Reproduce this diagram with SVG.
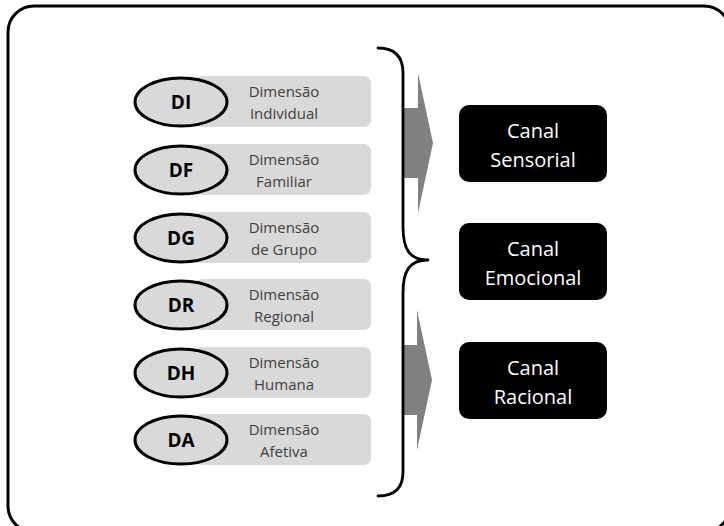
<svg xmlns="http://www.w3.org/2000/svg" width="724" height="526" viewBox="0 0 724 526">
  <style>
    .frame { fill: #ffffff; stroke: #000000; stroke-width: 3; }
    .bar { fill: #d9d9d9; }
    .badge { fill: #d9d9d9; stroke: #000000; stroke-width: 3; }
    .code { font-family: "Open Sans", "Liberation Sans", sans-serif; font-weight: bold; font-size: 19px; fill: #000000; text-anchor: middle; }
    .dim { font-family: "Open Sans", "Liberation Sans", sans-serif; font-size: 15px; fill: #404040; text-anchor: middle; }
    .canal { fill: #000000; }
    .canal-text { font-family: "Open Sans", "Liberation Sans", sans-serif; font-size: 20px; fill: #ffffff; text-anchor: middle; }
    .flow { fill: #808080; }
    .brace { fill: none; stroke: #000000; stroke-width: 2.8; stroke-linecap: round; stroke-linejoin: round; }
  </style>
  <defs>
    <!-- one dimension row: grey bar with an oval badge on its left -->
    <g id="row">
      <rect class="bar" x="195" y="-26" width="176" height="51" rx="7"/>
      <ellipse class="badge" cx="181" cy="0" rx="46" ry="24"/>
    </g>
  </defs>

  <rect class="frame" x="8" y="6" width="722" height="526" rx="26"/>

  <g id="connectors">
    <!-- wide grey arrows pointing to the channels -->
    <polygon class="flow" points="403,108 418,108 418,73 433,143 418,213 418,178 403,178"/>
    <polygon class="flow" points="403,345 417,345 417,310 432,380 417,450 417,415 403,415"/>
    <!-- curly brace grouping the six dimensions -->
    <path class="brace" d="M378,48 C395,48 403,57 403,73 L403,227 C403,250 410,260 428,260 C410,260 403,270 403,293 L403,472 C403,488 395,496 378,496"/>
  </g>

  <g id="DI" transform="translate(0,102)">
    <use href="#row"/>
    <text class="code" x="181" y="7">DI</text>
    <text class="dim" x="284" y="-5">Dimensão</text>
    <text class="dim" x="284" y="17">Individual</text>
  </g>
  <g id="DF" transform="translate(0,170)">
    <use href="#row"/>
    <text class="code" x="181" y="7">DF</text>
    <text class="dim" x="284" y="-5">Dimensão</text>
    <text class="dim" x="284" y="17">Familiar</text>
  </g>
  <g id="DG" transform="translate(0,238)">
    <use href="#row"/>
    <text class="code" x="181" y="7">DG</text>
    <text class="dim" x="284" y="-5">Dimensão</text>
    <text class="dim" x="284" y="17">de Grupo</text>
  </g>
  <g id="DR" transform="translate(0,305)">
    <use href="#row"/>
    <text class="code" x="181" y="7">DR</text>
    <text class="dim" x="284" y="-5">Dimensão</text>
    <text class="dim" x="284" y="17">Regional</text>
  </g>
  <g id="DH" transform="translate(0,373)">
    <use href="#row"/>
    <text class="code" x="181" y="7">DH</text>
    <text class="dim" x="284" y="-5">Dimensão</text>
    <text class="dim" x="284" y="17">Humana</text>
  </g>
  <g id="DA" transform="translate(0,440)">
    <use href="#row"/>
    <text class="code" x="181" y="7">DA</text>
    <text class="dim" x="284" y="-5">Dimensão</text>
    <text class="dim" x="284" y="17">Afetiva</text>
  </g>

  <g id="canal-sensorial">
    <rect class="canal" x="459" y="105" width="148" height="77" rx="10"/>
    <text class="canal-text" x="533" y="138">Canal</text>
    <text class="canal-text" x="533" y="167">Sensorial</text>
  </g>
  <g id="canal-emocional">
    <rect class="canal" x="459" y="223" width="148" height="77" rx="10"/>
    <text class="canal-text" x="533" y="256">Canal</text>
    <text class="canal-text" x="533" y="285">Emocional</text>
  </g>
  <g id="canal-racional">
    <rect class="canal" x="459" y="342" width="148" height="77" rx="10"/>
    <text class="canal-text" x="533" y="375">Canal</text>
    <text class="canal-text" x="533" y="404">Racional</text>
  </g>
</svg>
